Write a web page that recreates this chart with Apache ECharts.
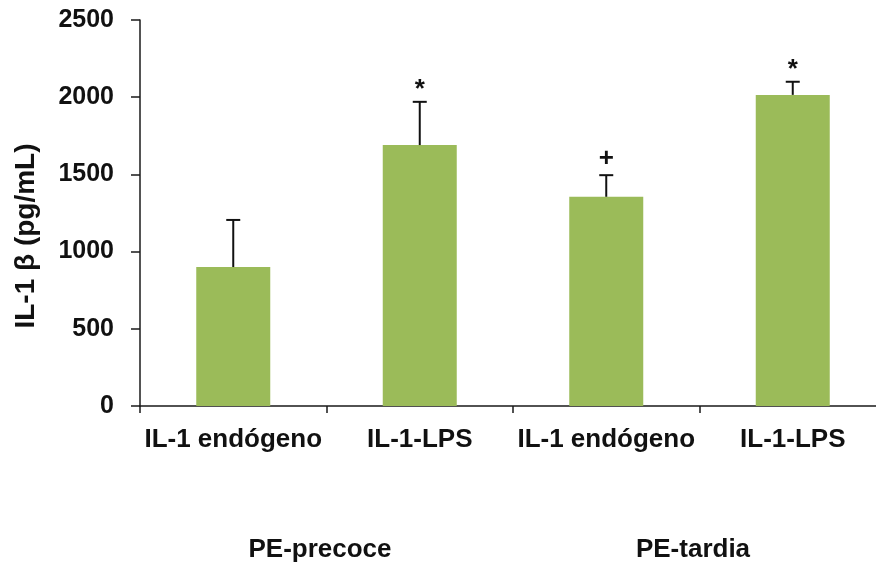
<!DOCTYPE html>
<html>
<head>
<meta charset="utf-8">
<script src="https://cdn.jsdelivr.net/npm/echarts@6/dist/echarts.min.js"></script>
<style>
  html, body { margin: 0; padding: 0; background: #ffffff; }
  #chart { width: 876px; height: 563px; }
</style>
</head>
<body>
<div id="chart"></div>
<script>
// IL-1β concentration by stimulus, grouped by preeclampsia onset
const categories = ['IL-1 endógeno', 'IL-1-LPS', 'IL-1 endógeno', 'IL-1-LPS'];
const groups = ['PE-precoce', 'PE-tardia'];
const means = [900, 1690, 1355, 2015];
const errors = [305, 280, 140, 85];
const marks = ['', '*', '+', '*'];
const yTicks = [0, 500, 1000, 1500, 2000, 2500];
const yTitle = 'IL-1 β (pg/mL)';

const FONT = '"Liberation Sans", Arial, sans-serif';
const AXIS = '#1a1a1a';

const errData = means.map((m, i) => [i, m, m + errors[i]]);

const chart = echarts.init(document.getElementById('chart'), null, { renderer: 'canvas' });

chart.setOption({
  backgroundColor: '#ffffff',
  animation: false,
  grid: { left: 140, top: 20, width: 746, bottom: 157, containLabel: false, outerBoundsMode: 'none' },
  graphic: [
    {
      type: 'text',
      x: 26,
      y: 236,
      rotation: Math.PI / 2,
      style: {
        text: yTitle,
        align: 'center',
        verticalAlign: 'middle',
        fill: '#111',
        font: 'bold 28px ' + FONT
      }
    }
  ],
  xAxis: [
    {
      type: 'category',
      data: categories,
      position: 'bottom',
      axisLine: { lineStyle: { color: AXIS, width: 1.5 } },
      axisTick: { show: true, length: 7, alignWithLabel: false, lineStyle: { color: AXIS, width: 1.5 } },
      axisLabel: {
        interval: 0, margin: 21, color: '#111', fontFamily: FONT,
        fontWeight: 'bold', fontSize: 26
      }
    },
    {
      type: 'category',
      data: groups,
      position: 'bottom',
      axisLine: { show: false },
      axisTick: { show: false },
      axisLabel: {
        interval: 0, margin: 131, color: '#111', fontFamily: FONT,
        fontWeight: 'bold', fontSize: 26, padding: [0, 13, 0, 0]
      }
    }
  ],
  yAxis: {
    type: 'value',
    min: yTicks[0],
    max: yTicks[yTicks.length - 1],
    interval: yTicks[1] - yTicks[0],
    axisLine: { show: true, lineStyle: { color: AXIS, width: 1.5 } },
    axisTick: { show: true, length: 9, lineStyle: { color: AXIS, width: 1.5 } },
    splitLine: { show: false },
    axisLabel: {
      margin: 26, color: '#111', fontFamily: FONT, fontWeight: 'bold', fontSize: 25,
      formatter: function (v) { return String(v); }
    }
  },
  series: [
    {
      type: 'bar',
      data: means,
      barWidth: 74,
      itemStyle: { color: '#9BBB59' },
      z: 2
    },
    {
      type: 'custom',
      data: errData,
      z: 3,
      renderItem: function (params, api) {
        const idx = api.value(0);
        const base = api.coord([idx, api.value(1)]);
        const top = api.coord([idx, api.value(2)]);
        const mark = marks[params.dataIndex];
        const cap = 7;
        const style = { stroke: '#111', lineWidth: 2 };
        const children = [
          { type: 'line', shape: { x1: base[0], y1: base[1], x2: top[0], y2: top[1] }, style: style },
          { type: 'line', shape: { x1: top[0] - cap, y1: top[1], x2: top[0] + cap, y2: top[1] }, style: style }
        ];
        if (mark) {
          children.push({
            type: 'text',
            style: {
              text: mark,
              x: top[0],
              y: top[1] - (mark === '*' ? 12 : 16),
              align: 'center',
              verticalAlign: 'middle',
              fill: '#111',
              font: 'bold 26px ' + FONT
            }
          });
        }
        return { type: 'group', children: children };
      }
    }
  ]
});
</script>
</body>
</html>
